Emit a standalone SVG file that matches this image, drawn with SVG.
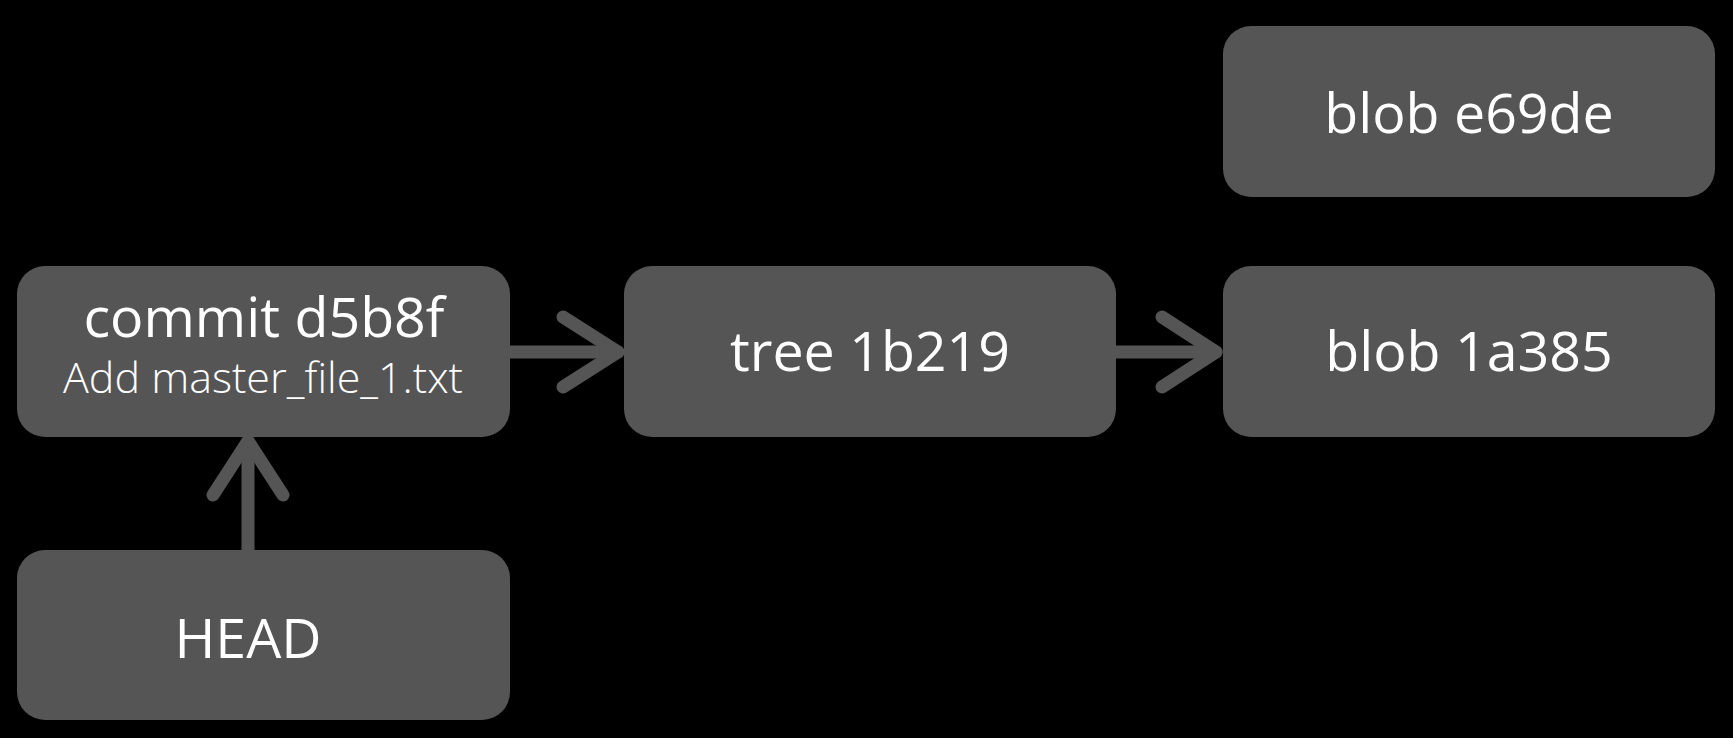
<svg xmlns="http://www.w3.org/2000/svg" width="1733" height="738" viewBox="0 0 1733 738">
<style>
.box{fill:#555555}
.t{fill:#ffffff;font-family:"Open Sans","Noto Sans","DejaVu Sans",sans-serif;font-size:55.5px;text-anchor:middle}
.s{fill:#ffffff;font-family:"Open Sans","Noto Sans","DejaVu Sans",sans-serif;font-size:43px;font-weight:300;text-anchor:middle}
.c{fill:none;stroke:#555555;stroke-width:13;stroke-linecap:round;stroke-linejoin:round}
</style>
<rect width="1733" height="738" fill="#000000"/>
<g id="connectors">
<g id="commit-tree"><line class="c" x1="505" y1="352" x2="618" y2="352"/><polyline class="c" points="563,317 618,352 563,387"/></g>
<g id="tree-blob"><line class="c" x1="1112" y1="352" x2="1216" y2="352"/><polyline class="c" points="1162,317 1216,352 1162,387"/></g>
<g id="head-commit"><line class="c" x1="248" y1="555" x2="248" y2="441"/><polyline class="c" points="213,495 248,441 283,495"/></g>
</g>
<g id="commit">
<rect class="box" x="17" y="266" width="493" height="171" rx="28"/>
<text class="t" x="264" y="337">commit d5b8f</text>
<text class="s" x="263" y="393">Add master_file_1.txt</text>
</g>
<g id="tree">
<rect class="box" x="624" y="266" width="492" height="171" rx="28"/>
<text class="t" x="870" y="371">tree 1b219</text>
</g>
<g id="blob-1a385">
<rect class="box" x="1223" y="266" width="492" height="171" rx="28"/>
<text class="t" x="1469" y="371">blob 1a385</text>
</g>
<g id="blob-e69de">
<rect class="box" x="1223" y="26" width="492" height="171" rx="28"/>
<text class="t" x="1469" y="133">blob e69de</text>
</g>
<g id="head">
<rect class="box" x="17" y="550" width="493" height="170" rx="28"/>
<text class="t" x="248" y="658">HEAD</text>
</g>
</svg>
